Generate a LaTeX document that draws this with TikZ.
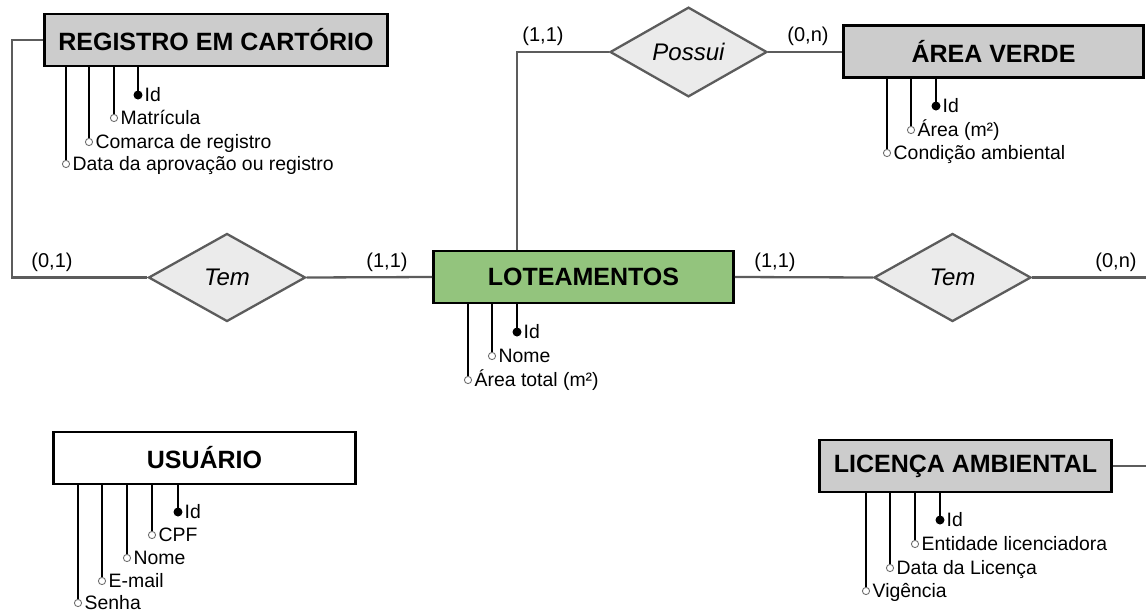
\documentclass[tikz,border=0pt]{standalone}
\usepackage{fontspec}
\setmainfont{Liberation Sans}
\usetikzlibrary{%
	shapes.geometric%
}

\definecolor{entgray}{HTML}{CCCCCC}
\definecolor{entgreen}{HTML}{93C47D}
\definecolor{relfill}{HTML}{EBEBEB}
\definecolor{relline}{HTML}{5C5C5C}
\definecolor{dotline}{HTML}{707070}

\begin{document}
\begin{tikzpicture}[x=1pt,y=-1pt,
		entity/.style={draw=black,line width=2.6pt,minimum height=52pt,inner sep=0pt,
			font=\fontsize{25}{30}\selectfont\bfseries},
		relation/.style={diamond,draw=relline,line width=2.3pt,fill=relfill,
			minimum width=157pt,minimum height=88pt,inner sep=0pt,
			font=\fontsize{24}{28}\selectfont\itshape},
		link/.style={draw=relline,line width=2.3pt},
		card/.style={inner sep=0pt,font=\fontsize{20}{24}\selectfont},
		attr/.style={draw=black,line width=2.8pt},
		keydot/.style={fill=black},
		optdot/.style={draw=dotline,fill=white,line width=0.9pt},
		attrlabel/.style={anchor=base west,inner sep=0pt,font=\fontsize{19.4}{23}\selectfont}
	]
	\useasboundingbox (0,0) rectangle (1146,614);
	
	% Entities
	\node[entity,fill=entgray,minimum width=343pt] (reg) at (216,40) {REGISTRO EM CARTÓRIO};
	\node[entity,fill=entgreen,minimum width=300pt] (lote) at (583.5,277) {LOTEAMENTOS};
	\node[entity,fill=entgray,minimum width=300pt] (verde) at (993.5,51.5) {ÁREA VERDE};
	\node[entity,fill=white,minimum width=302pt] (usu) at (204.5,458) {USUÁRIO};
	\node[entity,fill=entgray,minimum width=292pt] (lic) at (965.5,466) {LICENÇA AMBIENTAL};
	
	% Relationships
	\node[relation] (possui) at (688.5,52) {Possui};
	\node[relation] (temA) at (227,277.5) {Tem};
	\node[relation] (temB) at (952.5,277.5) {Tem};
	
	% Links
	\coordinate (edgeA) at (1146,277.5);
	\coordinate (edgeB) at (1146,466);
	\draw[link] (reg.west) -- ++(-31,0) |- (temA.west);
	\draw[link] (temA.east) -- (lote.west);
	\draw[link] ([xshift=-66.5pt]lote.north) |- (possui.west);
	\draw[link] (possui.east) -- (possui.east -| verde.west);
	\draw[link] (lote.east) -- (temB.west);
	\draw[link] (temB.east) -- (edgeA);
	\draw[link] (lic.east) -- (edgeB);
	
	% Cardinalities
	\node[card] (cardA) at (52,262) {(0,1)};
	\node[card] (cardB) at (387,262) {(1,1)};
	\node[card] (cardC) at (543,36) {(1,1)};
	\node[card] (cardD) at (808,36) {(0,n)};
	\node[card] (cardE) at (775,262) {(1,1)};
	\node[card] (cardF) at (1116,262) {(0,n)};
	
	% Attributes
	\foreach \ax/\ay/\atxt [count=\i] in {138/95/Id,114/118/Matrícula,89/142/Comarca de registro,66/164/Data da aprovação ou registro}{
		\coordinate (reg-\i) at (\ax,\ay);
		\draw[attr] (reg.south -| reg-\i) -- (reg-\i);
		\ifnum\i=1 \fill[keydot] (reg-\i) circle (4.5pt); \else \filldraw[optdot] (reg-\i) circle (3.6pt); \fi
		\node[attrlabel] (reg-t\i) at (\ax+6.5,\ay+6.3) {\atxt};
	}
	\foreach \ax/\ay/\atxt [count=\i] in {936/106/Id,911/130/Área (m²),887/153/Condição ambiental}{
		\coordinate (verde-\i) at (\ax,\ay);
		\draw[attr] (verde.south -| verde-\i) -- (verde-\i);
		\ifnum\i=1 \fill[keydot] (verde-\i) circle (4.5pt); \else \filldraw[optdot] (verde-\i) circle (3.6pt); \fi
		\node[attrlabel] (verde-t\i) at (\ax+6.5,\ay+6.3) {\atxt};
	}
	\foreach \ax/\ay/\atxt [count=\i] in {517/332/Id,492/356/Nome,468/380/Área total (m²)}{
		\coordinate (lote-\i) at (\ax,\ay);
		\draw[attr] (lote.south -| lote-\i) -- (lote-\i);
		\ifnum\i=1 \fill[keydot] (lote-\i) circle (4.5pt); \else \filldraw[optdot] (lote-\i) circle (3.6pt); \fi
		\node[attrlabel] (lote-t\i) at (\ax+6.5,\ay+6.3) {\atxt};
	}
	\foreach \ax/\ay/\atxt [count=\i] in {178/512/Id,152/535/CPF,127/558/Nome,102/581/E-mail,78/603/Senha}{
		\coordinate (usu-\i) at (\ax,\ay);
		\draw[attr] (usu.south -| usu-\i) -- (usu-\i);
		\ifnum\i=1 \fill[keydot] (usu-\i) circle (4.5pt); \else \filldraw[optdot] (usu-\i) circle (3.6pt); \fi
		\node[attrlabel] (usu-t\i) at (\ax+6.5,\ay+6.3) {\atxt};
	}
	\foreach \ax/\ay/\atxt [count=\i] in {940/520/Id,915/544/Entidade licenciadora,890/568/Data da Licença,866/591/Vigência}{
		\coordinate (lic-\i) at (\ax,\ay);
		\draw[attr] (lic.south -| lic-\i) -- (lic-\i);
		\ifnum\i=1 \fill[keydot] (lic-\i) circle (4.5pt); \else \filldraw[optdot] (lic-\i) circle (3.6pt); \fi
		\node[attrlabel] (lic-t\i) at (\ax+6.5,\ay+6.3) {\atxt};
	}
\end{tikzpicture}
\end{document}
